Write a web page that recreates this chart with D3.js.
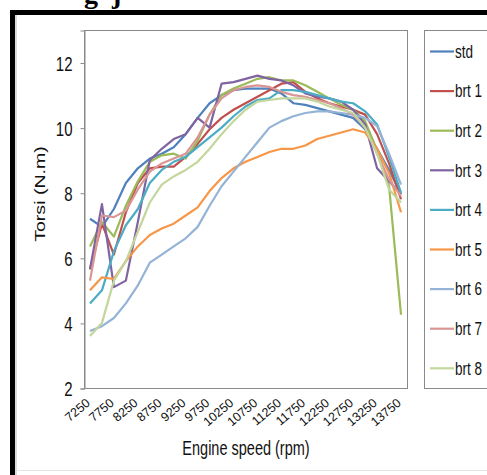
<!DOCTYPE html>
<html>
<head>
<meta charset="utf-8">
<script src="https://cdn.jsdelivr.net/npm/d3@7"></script>
<style>
  body { margin: 0; background: #fff; }
  svg { display: block; font-family: "Liberation Sans", Arial, sans-serif; }
</style>
</head>
<body>
<script>
// engine speed categories (rpm)
var rpm = [7250, 7500, 7750, 8000, 8250, 8500, 8750, 9000, 9250, 9500, 9750, 10000, 10250,
  10500, 10750, 11000, 11250, 11500, 11750, 12000, 12250, 12500, 12750, 13000, 13250, 13500, 13750];
var xLabels = [7250, 7750, 8250, 8750, 9250, 9750, 10250, 10750, 11250, 11750, 12250, 12750, 13250, 13750];
var yTicks = [2, 4, 6, 8, 10, 12];

var names = ['std', 'brt 1', 'brt 2', 'brt 3', 'brt 4', 'brt 5', 'brt 6', 'brt 7', 'brt 8'];
var colors = ['#4F81BD', '#C0504D', '#9BBB59', '#8064A2', '#4BACC6', '#F79646', '#95B3D7', '#D99694', '#C3D69B'];

// torque (N.m)
var std  = [7.2, 6.95, 7.5, 8.3, 8.75, 9.05, 9.2, 9.4, 9.8, 10.3, 10.75, 11.0, 11.15, 11.2, 11.2, 11.2, 11.05, 10.75, 10.7, 10.6, 10.5, 10.4, 10.3, 9.95, 9.35, 8.7, 7.95];
var brt1 = [5.65, 7.05, 6.1, 7.4, 8.3, 8.75, 8.8, 8.8, 9.1, 9.5, 9.95, 10.3, 10.55, 10.75, 10.95, 11.15, 11.35, 11.4, 11.1, 10.9, 10.75, 10.65, 10.55, 10.4, 9.8, 8.9, 7.8];
var brt2 = [6.35, 7.1, 6.65, 7.6, 8.35, 8.95, 9.15, 9.2, 9.05, 9.6, 10.4, 11.0, 11.2, 11.35, 11.5, 11.55, 11.45, 11.45, 11.3, 11.1, 10.9, 10.7, 10.55, 10.2, 9.3, 8.2, 4.25];
var brt3 = [5.65, 7.65, 5.1, 5.3, 7.1, 9.0, 9.35, 9.65, 9.8, 10.3, 10.0, 11.35, 11.4, 11.5, 11.6, 11.5, 11.45, 11.3, 11.05, 10.95, 10.9, 10.8, 10.55, 10.1, 8.75, 8.35, 7.95];
var brt4 = [4.6, 5.0, 6.2, 7.0, 7.5, 8.3, 8.7, 8.95, 9.1, 9.4, 9.7, 10.0, 10.35, 10.65, 10.85, 10.9, 11.15, 11.15, 11.1, 11.0, 10.9, 10.8, 10.75, 10.5, 10.1, 9.1, 8.0];
var brt5 = [5.0, 5.4, 5.35, 5.9, 6.35, 6.7, 6.9, 7.05, 7.3, 7.55, 8.05, 8.45, 8.75, 8.95, 9.1, 9.25, 9.35, 9.35, 9.45, 9.65, 9.75, 9.85, 9.95, 9.85, 9.35, 8.6, 7.4];
var brt6 = [3.75, 3.9, 4.15, 4.6, 5.15, 5.85, 6.1, 6.35, 6.6, 6.95, 7.6, 8.2, 8.65, 9.1, 9.55, 10.0, 10.2, 10.35, 10.45, 10.5, 10.5, 10.45, 10.4, 10.3, 10.05, 9.2, 8.25];
var brt7 = [5.3, 7.3, 7.25, 7.45, 8.1, 8.65, 8.9, 9.05, 9.2, 9.7, 10.4, 10.9, 11.15, 11.25, 11.3, 11.25, 11.1, 11.0, 10.95, 10.85, 10.75, 10.6, 10.4, 10.0, 9.2, 8.4, 7.9];
var brt8 = [3.6, 4.0, 5.3, 5.9, 6.8, 7.7, 8.25, 8.5, 8.7, 8.95, 9.35, 9.8, 10.2, 10.55, 10.8, 10.85, 10.9, 10.9, 10.9, 10.8, 10.65, 10.55, 10.45, 10.0, 9.2, 8.1, 7.7];

var series = [std, brt1, brt2, brt3, brt4, brt5, brt6, brt7, brt8];

var w = 487, h = 475;
var sy = 1.35; // the picture is stretched vertically, text too

var svg = d3.select('body').append('svg')
  .attr('width', w)
  .attr('height', h);

svg.append('rect').attr('width', w).attr('height', h).attr('fill', '#fff');

// cut-off caption above the frame
svg.append('text').attr('x', 84).attr('y', 3)
  .style('font-family', '"Liberation Serif", serif').style('font-weight', 'bold')
  .style('font-size', '28px').text('g');
svg.append('text').attr('x', 112).attr('y', 3)
  .style('font-family', '"Liberation Serif", serif').style('font-weight', 'bold')
  .style('font-size', '28px').text('j');

// frame
svg.append('rect')
  .attr('x', 12.5).attr('y', 12.5)
  .attr('width', 700).attr('height', 700)
  .attr('fill', '#fff')
  .attr('stroke', '#000')
  .attr('stroke-width', 5);
svg.append('line').attr('x1', 16).attr('x2', 16).attr('y1', 15).attr('y2', h)
  .attr('stroke', '#d0d0d0').attr('stroke-width', 1.5);
svg.append('line').attr('x1', 15).attr('x2', w).attr('y1', 470.5).attr('y2', 470.5)
  .attr('stroke', '#e4e4e4').attr('stroke-width', 1);

var pLeft = 84, pRight = 407, pTop = 30, pBottom = 388;

var x = d3.scalePoint().domain(rpm).range([pLeft, pRight]).padding(0.5);
var y = d3.scaleLinear().domain([2, 13]).range([pBottom, pTop]);

// plot area
svg.append('rect')
  .attr('x', pLeft + 0.5).attr('y', pTop + 0.5)
  .attr('width', pRight - pLeft).attr('height', pBottom - pTop)
  .attr('fill', '#fff').attr('stroke', '#8a8a8a');

// y axis
var yAxis = svg.append('g').attr('transform', 'translate(' + (pLeft + 0.5) + ',0.5)')
  .call(d3.axisLeft(y).tickValues(yTicks).tickSize(4));
yAxis.select('.domain').attr('stroke', '#8a8a8a');
yAxis.selectAll('.tick line').attr('stroke', '#8a8a8a');
yAxis.selectAll('.tick text')
  .attr('fill', '#111')
  .style('font-size', '15px')
  .attr('x', 0)
  .attr('dy', '0.35em')
  .attr('transform', 'translate(-12,0) scale(1,' + sy + ')');

// x labels
svg.append('g').selectAll('text')
  .data(xLabels)
  .enter()
  .append('text')
  .attr('transform', function (d) {
    return 'translate(' + (x(d) - 2) + ',' + (pBottom + 13) + ') rotate(-40)';
  })
  .attr('text-anchor', 'end')
  .attr('dy', '0.35em')
  .attr('fill', '#111')
  .style('font-size', '12.5px')
  .text(function (d) { return d; });

// titles
svg.append('text')
  .attr('transform', 'translate(246,455) scale(1,' + sy + ')')
  .attr('text-anchor', 'middle')
  .attr('fill', '#111')
  .style('font-size', '14.5px')
  .text('Engine speed (rpm)');
svg.append('text')
  .attr('transform', 'translate(45,194) scale(1,' + sy + ') rotate(-90)')
  .attr('text-anchor', 'middle')
  .attr('fill', '#111')
  .style('font-size', '14.5px')
  .text('Torsi (N.m)');

// lines
var line = d3.line()
  .x(function (d, i) { return x(rpm[i]); })
  .y(function (d) { return y(d); });

svg.append('g').selectAll('path')
  .data(series)
  .enter()
  .append('path')
  .attr('d', line)
  .attr('fill', 'none')
  .attr('stroke', function (d, i) { return colors[i]; })
  .attr('stroke-width', 2.2)
  .attr('stroke-linejoin', 'round');

// legend
svg.append('rect')
  .attr('x', 424.5).attr('y', 30.5)
  .attr('width', 100).attr('height', 358)
  .attr('fill', '#fff').attr('stroke', '#8a8a8a');

var leg = svg.append('g').selectAll('g')
  .data(names)
  .enter()
  .append('g')
  .attr('transform', function (d, i) { return 'translate(0,' + (51.5 + i * 39.6) + ')'; });
leg.append('line')
  .attr('x1', 430).attr('x2', 454)
  .attr('stroke', function (d, i) { return colors[i]; })
  .attr('stroke-width', 2.2);
leg.append('text')
  .attr('transform', 'translate(455,0) scale(1,' + sy + ')')
  .attr('dy', '0.35em')
  .attr('fill', '#111')
  .style('font-size', '13.5px')
  .text(function (d) { return d; });
</script>
</body>
</html>
